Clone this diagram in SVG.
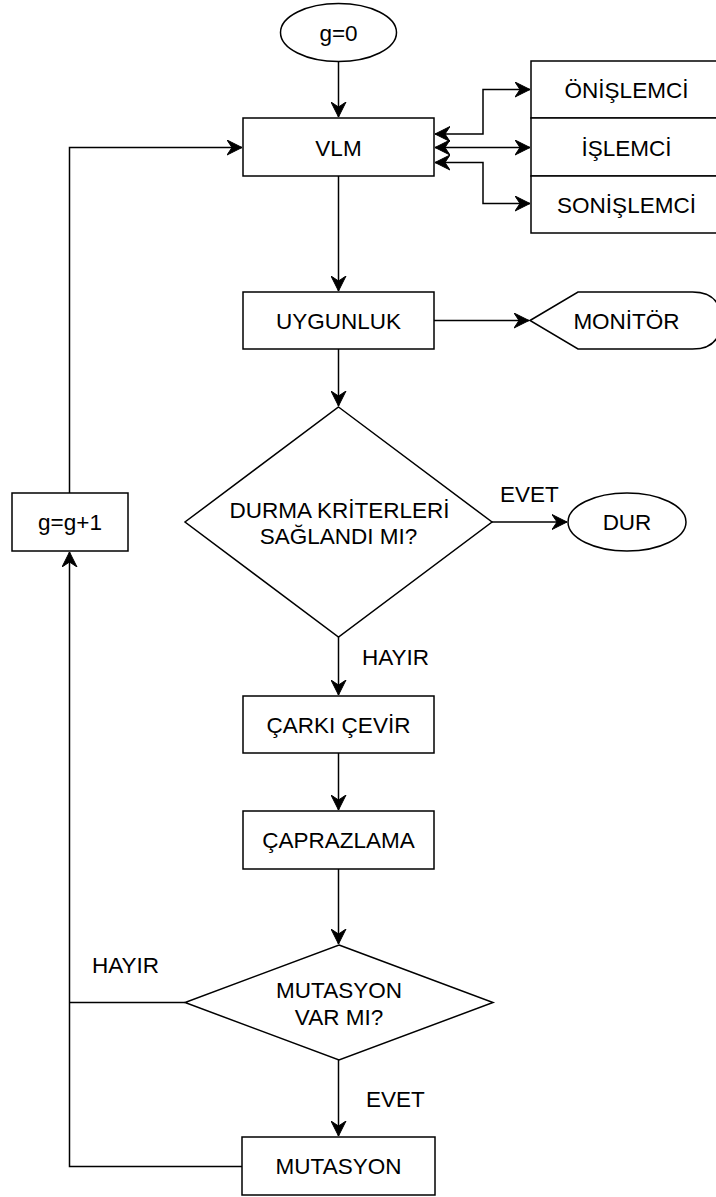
<svg xmlns="http://www.w3.org/2000/svg" width="716" height="1197" viewBox="0 0 716 1197">
  <style>
    .shape { fill: #ffffff; stroke: #000000; stroke-width: 1.5; }
    .edge { fill: none; stroke: #000000; stroke-width: 1.5; }
    .label { font-family: "Liberation Sans", Arial, Helvetica, sans-serif; font-size: 22.5px; fill: #000000; text-anchor: middle; }
    .edge-label { font-family: "Liberation Sans", Arial, Helvetica, sans-serif; font-size: 22.5px; fill: #000000; text-anchor: start; }
  </style>
  <defs>
    <marker id="arrow" markerUnits="userSpaceOnUse" markerWidth="16" markerHeight="16" viewBox="0 0 16 16" refX="15" refY="8" orient="auto-start-reverse">
      <path d="M0,0.5 L15,8 L0,15.5 L5,8 Z" fill="#000000" stroke="#000000" stroke-width="1"/>
    </marker>
  </defs>

  <rect width="716" height="1197" fill="#ffffff"/>

  <!-- connectors -->
  <g id="connectors">
    <path class="edge" d="M338.5,62 V117" marker-end="url(#arrow)"/>
    <path class="edge" d="M338.5,176 V291" marker-end="url(#arrow)"/>
    <path class="edge" d="M338.5,349 V406" marker-end="url(#arrow)"/>
    <path class="edge" d="M338.5,637 V695" marker-end="url(#arrow)"/>
    <path class="edge" d="M338.5,753 V810" marker-end="url(#arrow)"/>
    <path class="edge" d="M338.5,869 V944" marker-end="url(#arrow)"/>
    <path class="edge" d="M338.5,1060 V1136" marker-end="url(#arrow)"/>
    <!-- VLM <-> processing stages -->
    <path class="edge" d="M435,134 H483 V89.5 H530" marker-start="url(#arrow)" marker-end="url(#arrow)"/>
    <path class="edge" d="M435,147.5 H530" marker-start="url(#arrow)" marker-end="url(#arrow)"/>
    <path class="edge" d="M435,162.5 H483 V203.5 H530" marker-start="url(#arrow)" marker-end="url(#arrow)"/>
    <!-- fitness to monitor -->
    <path class="edge" d="M434,320.5 H529" marker-end="url(#arrow)"/>
    <!-- stop branch -->
    <path class="edge" d="M492,522 H567" marker-end="url(#arrow)"/>
    <!-- loop back -->
    <path class="edge" d="M185,1002.5 H69.5"/>
    <path class="edge" d="M242,1166.5 H69.5 V552" marker-end="url(#arrow)"/>
    <path class="edge" d="M69.5,493 V147.5 H242" marker-end="url(#arrow)"/>
    <!-- edge labels -->
    <text class="edge-label" x="500" y="502">EVET</text>
    <text class="edge-label" x="362" y="665">HAYIR</text>
    <text class="edge-label" x="92" y="973">HAYIR</text>
    <text class="edge-label" x="366" y="1107">EVET</text>
  </g>

  <g id="start">
    <ellipse class="shape" cx="338.5" cy="32.5" rx="58" ry="29"/>
    <text class="label" x="338.5" y="40.5">g=0</text>
  </g>

  <g id="vlm">
    <rect class="shape" x="243" y="118" width="191" height="58"/>
    <text class="label" x="338.5" y="155.5">VLM</text>
  </g>

  <g id="onislemci">
    <rect class="shape" x="531" y="61" width="191" height="57"/>
    <text class="label" x="626.5" y="97.5">ÖNİŞLEMCİ</text>
  </g>

  <g id="islemci">
    <rect class="shape" x="531" y="118" width="191" height="58"/>
    <text class="label" x="626.5" y="155.5">İŞLEMCİ</text>
  </g>

  <g id="sonislemci">
    <rect class="shape" x="531" y="176" width="191" height="57"/>
    <text class="label" x="626.5" y="212.5">SONİŞLEMCİ</text>
  </g>

  <g id="uygunluk">
    <rect class="shape" x="243" y="292" width="191" height="57"/>
    <text class="label" x="338.5" y="328.5">UYGUNLUK</text>
  </g>

  <g id="monitor">
    <path class="shape" d="M530,320.5 L578,292 L692.5,292 Q721,292 721,320.5 Q721,349 692.5,349 L578,349 Z"/>
    <text class="label" x="626.5" y="328.5">MONİTÖR</text>
  </g>

  <g id="durma">
    <path class="shape" d="M338.5,407 L492,522 L338.5,637 L185,522 Z"/>
    <text class="label" x="339.5" y="517.5">DURMA KRİTERLERİ</text>
    <text class="label" x="338.5" y="544">SAĞLANDI MI?</text>
  </g>

  <g id="dur">
    <ellipse class="shape" cx="627" cy="522" rx="59" ry="29"/>
    <text class="label" x="627" y="530">DUR</text>
  </g>

  <g id="g-artir">
    <rect class="shape" x="12" y="493" width="116" height="58"/>
    <text class="label" x="70" y="530">g=g+1</text>
  </g>

  <g id="carki-cevir">
    <rect class="shape" x="243" y="696" width="191" height="57"/>
    <text class="label" x="338.5" y="732.5">ÇARKI ÇEVİR</text>
  </g>

  <g id="caprazlama">
    <rect class="shape" x="243" y="811" width="191" height="58"/>
    <text class="label" x="338.5" y="848">ÇAPRAZLAMA</text>
  </g>

  <g id="mutasyon-var">
    <path class="shape" d="M339,945 L493,1002.5 L339,1060 L185,1002.5 Z"/>
    <text class="label" x="339" y="998">MUTASYON</text>
    <text class="label" x="339" y="1025">VAR MI?</text>
  </g>

  <g id="mutasyon">
    <rect class="shape" x="242" y="1137" width="193" height="58"/>
    <text class="label" x="338.5" y="1174">MUTASYON</text>
  </g>
</svg>
